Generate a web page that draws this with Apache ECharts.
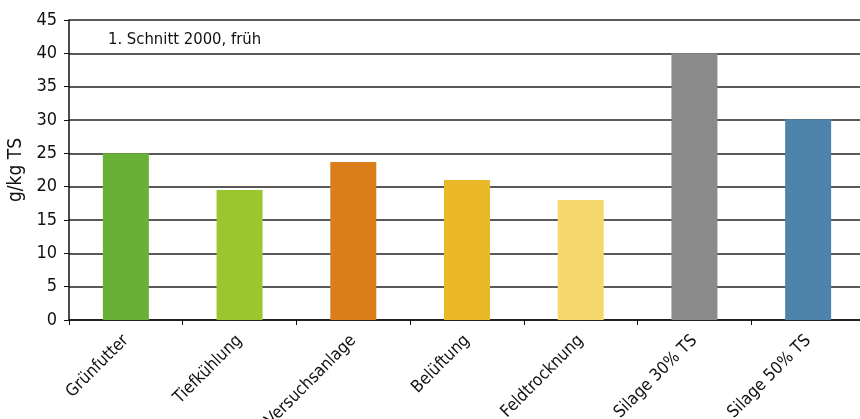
<!DOCTYPE html>
<html><head><meta charset="utf-8">
<script src="https://cdn.jsdelivr.net/npm/echarts@6/dist/echarts.min.js"></script>
<style>html,body{margin:0;padding:0;background:#fff}#c{width:860px;height:419px}</style>
</head><body><div id="c"></div>
<script>
const categories = ["Grünfutter","Tiefkühlung","Versuchsanlage","Belüftung","Feldtrocknung","Silage 30% TS","Silage 50% TS"];
const values = [25, 19.5, 23.7, 21.0, 18.0, 40.0, 30.1];
const colors = ["#67B136","#9BC62E","#D97E1A","#EAB828","#F5D76E","#8A8A8A","#4E83AC"];
const yTicks = [0,5,10,15,20,25,30,35,40,45];
const yTitle = "g/kg TS";
const note = "1. Schnitt 2000, früh";
const FONT = '"Liberation Sans Narrow", "DejaVu Sans Condensed", sans-serif';

const chart = echarts.init(document.getElementById('c'));
chart.setOption({
  animation:false,
  textStyle:{fontFamily:FONT},
  grid:{left:69, top:20, width:796, height:300, containLabel:false, outerBoundsMode:'none'},
  graphic:[{type:'text', left:108, top:31, style:{text:note, font:'16.5px ' + FONT, fill:'#111'}}],
  xAxis:{type:'category', data:categories,
    axisLine:{lineStyle:{color:'#111', width:1.5}},
    axisTick:{show:true, length:5, lineStyle:{color:'#111'}},
    axisLabel:{rotate:45, interval:0, margin:18, fontSize:17, color:'#111', fontFamily:FONT}
  },
  yAxis:{type:'value', min:0, max:45, interval:5,
    name:yTitle, nameLocation:'middle', nameGap:42, nameRotate:90,
    nameTextStyle:{fontSize:19, color:'#111', fontFamily:FONT},
    axisLine:{show:true, lineStyle:{color:'#111', width:1.5}},
    axisTick:{show:true, length:5, lineStyle:{color:'#111'}},
    axisLabel:{fontSize:18, color:'#111', margin:12, fontFamily:FONT,
      formatter:v=>yTicks.includes(v)?String(v):''},
    splitLine:{show:true, lineStyle:{color:'#222', width:1.5}}
  },
  series:[{type:'bar', barWidth:46,
    data:values.map((v,i)=>({value:v, itemStyle:{color:colors[i]}}))
  }]
});
</script></body></html>
